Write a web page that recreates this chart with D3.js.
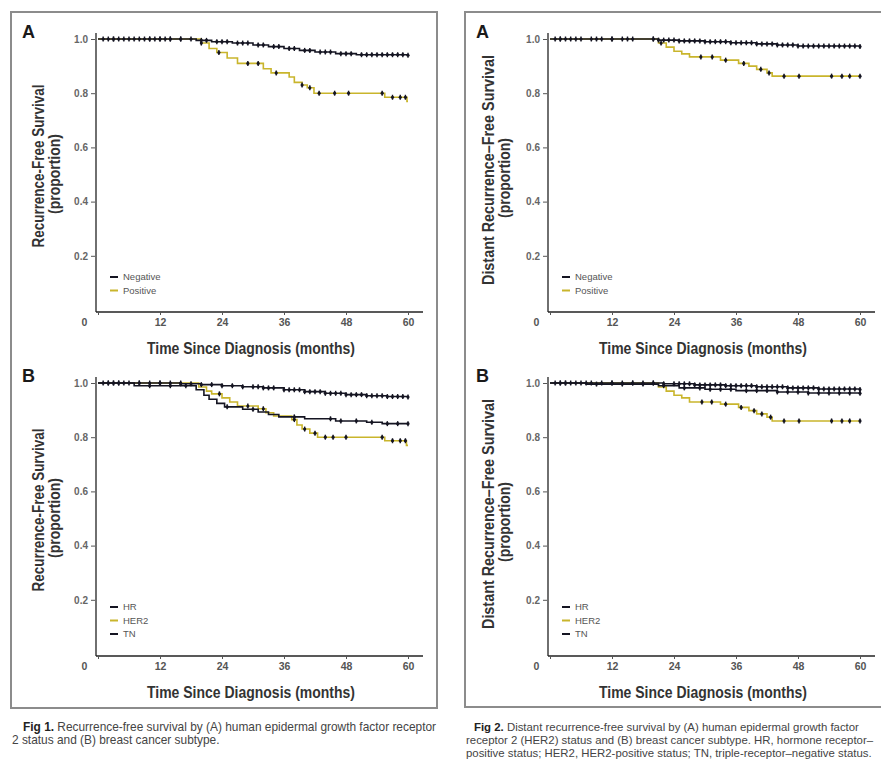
<!DOCTYPE html>
<html>
<head>
<meta charset="utf-8">
<script src="https://cdn.jsdelivr.net/npm/d3@7"></script>
<style>
body { margin: 0; background: #fff; }
svg { display: block; }
</style>
</head>
<body>
<script>
// main chart: two figures, each with panels A and B

var w = 881, h = 765;

// tick values
var monthTicks = [0, 12, 24, 36, 48, 60];
var survTicks = [0.2, 0.4, 0.6, 0.8, 1.0];

// legend labels
var her2Labels = ["Negative", "Positive"];
var subtypeLabels = ["HR", "HER2", "TN"];

// Fig 1A - recurrence-free survival by HER2 status  [month, proportion]
var f1aNeg = [[0,1],[19,0.995],[22,0.99],[26,0.985],[30,0.978],[33,0.972],[36,0.965],[39,0.958],[42,0.952],[46,0.946],[50,0.942],[60,0.94]];
var f1aNegCens = [1,2,3,4,6,8,9,10,11,12,13,14,16,18,20,21,23,24,25,27,28,29,31,32,34,35,37,38,40,41,43,44,45,47,48,49,51,52,53,54,55,56,57,58,59,60];
var f1aPos = [[0,1],[20,0.985],[21.5,0.965],[23,0.95],[25,0.93],[27,0.91],[32,0.89],[33.5,0.875],[37,0.86],[38,0.84],[39.5,0.83],[40.5,0.82],[41.8,0.8],[55.5,0.785],[59.8,0.77],[60,0.77]];
var f1aPosCens = [3,5,7,10,12,14,16,20,23.4,29,31,34.5,39.5,41,42.8,45.8,48.5,55,57,58.5,59.5];

// Fig 1B - recurrence-free survival by subtype
var f1bHR = [[0,1],[16,0.997],[20,0.994],[24,0.99],[28,0.986],[32,0.982],[36,0.975],[40,0.968],[44,0.962],[48,0.957],[52,0.953],[56,0.95],[60,0.948]];
var f1bHRCens = [1,2,3,4,5,6,8,10,12,14,16,18,20,22,24,26,28,30,31,32,33,34,36,37,38,39,40,41,42,43,44,45,46,47,48,49,50,51,52,53,54,55,56,57,58,59,60];
var f1bHER2 = [[0,1],[19.5,0.985],[21,0.97],[22,0.96],[24,0.945],[25.5,0.93],[27,0.915],[31,0.905],[32.5,0.89],[34,0.878],[37.5,0.865],[38.5,0.845],[39.5,0.83],[41,0.815],[42.5,0.8],[55.5,0.787],[59.7,0.77],[60,0.77]];
var f1bHER2Cens = [3,8,12,16,23.5,29,32,38,40,42,44,45.5,48,55,57,58.5,59.5];
var f1bTN = [[0,1],[7,0.99],[19,0.975],[20.5,0.955],[21.5,0.94],[23,0.925],[24.5,0.912],[28,0.903],[31,0.893],[33,0.884],[35,0.875],[40,0.868],[46,0.86],[52,0.855],[55,0.85],[60,0.85]];
var f1bTNCens = [2,4,10,14,17,25,30,38,45,47,50,53,56,58,60];

// Fig 2A - distant recurrence-free survival by HER2 status
var f2aNeg = [[0,1],[21,0.996],[25,0.993],[30,0.99],[35,0.986],[40,0.982],[44,0.978],[48,0.974],[60,0.972]];
var f2aNegCens = [1,2,3,5,8,10,12,14,16,20,21,22,23,24,25,26,27,28,29,30,31,32,33,34,35,36,37,38,39,40,41,42,43,44,45,46,47,48,49,50,51,52,53,54,55,56,57,58,59,60];
var f2aPos = [[0,1],[21,0.985],[22.5,0.97],[24,0.955],[25.5,0.945],[27,0.934],[33,0.922],[36.5,0.91],[38.5,0.9],[40,0.888],[42,0.875],[43,0.863],[60,0.863]];
var f2aPosCens = [2,4,6,9,12,15,20,21.5,29.2,31.4,34,37.5,40.8,42.4,45.3,48.2,54.5,56.5,58,60];

// Fig 2B - distant recurrence-free survival by subtype
var f2bHR = [[0,1],[22,0.997],[28,0.993],[34,0.99],[40,0.986],[46,0.982],[52,0.978],[60,0.976]];
var f2bHRCens = [1,2,3,4,6,8,10,12,14,16,18,20,22,24,25,26,27,28,29,30,31,32,33,34,35,36,37,38,39,40,41,42,43,44,45,46,47,48,49,50,51,52,53,54,55,56,57,58,59,60];
var f2bHER2 = [[0,1],[21,0.985],[22.5,0.97],[24,0.955],[25.5,0.945],[27,0.93],[33,0.922],[36.5,0.91],[38.5,0.898],[40,0.886],[42,0.874],[43,0.86],[60,0.86]];
var f2bHER2Cens = [3,7,12,16,20,29.4,31.3,34,37,39.5,41,42.7,45.3,48.2,54.5,56.5,58,60];
var f2bTN = [[0,1],[7,0.996],[21,0.99],[25,0.982],[30,0.977],[36,0.972],[44,0.967],[50,0.963],[60,0.962]];
var f2bTNCens = [2,5,9,14,18,22,26,29,31,33,35,38,40,42,44,46,48,50,52,54,56,58,60];

// captions
var cap1 = ["Recurrence-free survival by (A) human epidermal growth factor receptor",
            "2 status and (B) breast cancer subtype."];
var cap2 = ["Distant recurrence-free survival by (A) human epidermal growth factor",
            "receptor 2 (HER2) status and (B) breast cancer subtype. HR, hormone receptor\u2013",
            "positive status; HER2, HER2-positive status; TN, triple-receptor\u2013negative status."];

var black = "#151522", yellow = "#c9b52c";
var narrow = "'Liberation Sans Narrow', 'Arial Narrow', 'Liberation Sans', sans-serif";

var svg = d3.select("body")
    .append("svg")
    .attr("width", w)
    .attr("height", h);

// figure frames
svg.append("rect").attr("x", 11).attr("y", 12).attr("width", 426).attr("height", 696)
    .attr("fill", "none").attr("stroke", "#8c8c8c").attr("stroke-width", 2);
svg.append("rect").attr("x", 465).attr("y", 12).attr("width", 440).attr("height", 695)
    .attr("fill", "none").attr("stroke", "#8c8c8c").attr("stroke-width", 2);

function survAt(steps, t) {
    var i = d3.bisector(function(d){ return d[0]; }).right(steps, t) - 1;
    return steps[Math.max(0, i)][1];
}

function drawPanel(p) {
    var g = svg.append("g");
    var x = d3.scaleLinear().domain([0, 60]).range([p.left + 2, p.left + 312]);
    var y = d3.scaleLinear().domain([0, 1]).range([p.top + 271, p.top]);
    var axisY = p.top + 273;

    // panel letter
    g.append("text").attr("x", p.letterX).attr("y", p.top - 1)
        .attr("font-family", "'Liberation Sans', Arial, sans-serif")
        .attr("font-weight", "bold").attr("font-size", 18).attr("fill", "#1a1a1a")
        .text(p.letter);

    // axis lines
    g.append("line").attr("x1", p.left).attr("x2", p.left)
        .attr("y1", p.top - 6).attr("y2", axisY)
        .attr("stroke", "#222").attr("stroke-width", 1.3);
    g.append("line").attr("x1", p.left).attr("x2", p.left + 327)
        .attr("y1", axisY).attr("y2", axisY)
        .attr("stroke", "#222").attr("stroke-width", 1.3);

    var yAxis = g.append("g").attr("transform", "translate(" + (p.left - 1) + ",0)")
        .call(d3.axisLeft(y).tickValues(survTicks).tickFormat(d3.format(".1f")).tickSize(4).tickPadding(3));
    yAxis.select(".domain").remove();
    yAxis.selectAll("line").attr("stroke", "#555");
    yAxis.selectAll("text").attr("font-family", narrow).attr("font-size", 10)
        .attr("font-weight", "bold").attr("fill", "#666");

    var xAxis = g.append("g").attr("transform", "translate(0," + axisY + ")")
        .call(d3.axisBottom(x).tickValues(monthTicks).tickSize(3).tickPadding(4));
    xAxis.select(".domain").remove();
    xAxis.selectAll("line").attr("stroke", "#555");
    xAxis.selectAll("text").attr("font-family", narrow).attr("font-size", 10.5)
        .attr("font-weight", "bold").attr("fill", "#555")
        .attr("dx", function(d){ return d === 0 ? -14 : 0; });

    // axis titles
    g.append("text")
        .attr("x", (x(0) + x(60)) / 2 - 2).attr("y", axisY + 42)
        .attr("text-anchor", "middle")
        .attr("font-family", narrow).attr("font-size", 17).attr("font-weight", "bold")
        .attr("fill", "#333")
        .attr("textLength", 208).attr("lengthAdjust", "spacingAndGlyphs")
        .text("Time Since Diagnosis (months)");

    g.append("text")
        .attr("transform", "translate(" + p.titleX1 + "," + (p.top + p.mid1) + ") rotate(-90)")
        .attr("text-anchor", "middle")
        .attr("font-family", narrow).attr("font-size", 16).attr("font-weight", "bold")
        .attr("fill", "#333")
        .attr("textLength", p.titleLen).attr("lengthAdjust", "spacingAndGlyphs")
        .text(p.ytitle);
    g.append("text")
        .attr("transform", "translate(" + (p.titleX1 + 16) + "," + (p.top + p.mid2) + ") rotate(-90)")
        .attr("text-anchor", "middle")
        .attr("font-family", narrow).attr("font-size", 16).attr("font-weight", "bold")
        .attr("fill", "#333")
        .attr("textLength", 80).attr("lengthAdjust", "spacingAndGlyphs")
        .text("(proportion)");

    // survival curves
    var line = d3.line()
        .x(function(d){ return x(d[0]); })
        .y(function(d){ return y(d[1]); })
        .curve(d3.curveStepAfter);

    p.series.forEach(function(s) {
        g.append("path").datum(s.steps)
            .attr("fill", "none").attr("stroke", s.color)
            .attr("stroke-width", 1.6).attr("d", line);
        var cg = g.append("g");
        cg.selectAll("line").data(s.cens).enter().append("line")
            .attr("x1", function(d){ return x(d); }).attr("x2", function(d){ return x(d); })
            .attr("y1", function(d){ return y(survAt(s.steps, d)) - 2.5; })
            .attr("y2", function(d){ return y(survAt(s.steps, d)) + 2.5; })
            .attr("stroke", black).attr("stroke-width", 1.4);
        cg.selectAll("circle").data(s.cens).enter().append("circle")
            .attr("cx", function(d){ return x(d); })
            .attr("cy", function(d){ return y(survAt(s.steps, d)); })
            .attr("r", 1.6).attr("fill", black);
    });

    // legend
    var lg = g.append("g").attr("transform", "translate(" + (p.left + 14) + "," + p.legendY + ")");
    p.legend.forEach(function(l, i) {
        lg.append("line").attr("x1", 0).attr("x2", 8)
            .attr("y1", i * 13.5).attr("y2", i * 13.5)
            .attr("stroke", l.color).attr("stroke-width", 2);
        lg.append("text").attr("x", 13).attr("y", i * 13.5 + 3)
            .attr("font-family", narrow).attr("font-size", 9.5)
            .attr("fill", "#555")
            .text(l.name);
    });
}

var her2Legend = [{name: her2Labels[0], color: black}, {name: her2Labels[1], color: yellow}];
var subLegend = [{name: subtypeLabels[0], color: black}, {name: subtypeLabels[1], color: yellow}, {name: subtypeLabels[2], color: black}];

drawPanel({left: 96, top: 39, letter: "A", letterX: 22, titleX1: 44, titleLen: 163, mid1: 127, mid2: 135,
    ytitle: "Recurrence-Free Survival", legendY: 238 + 39, legend: her2Legend,
    series: [{steps: f1aPos, cens: f1aPosCens, color: yellow},
             {steps: f1aNeg, cens: f1aNegCens, color: black}]});
drawPanel({left: 96, top: 383, letter: "B", letterX: 22, titleX1: 44, titleLen: 163, mid1: 127, mid2: 135,
    ytitle: "Recurrence-Free Survival", legendY: 224 + 383, legend: subLegend,
    series: [{steps: f1bHER2, cens: f1bHER2Cens, color: yellow},
             {steps: f1bTN, cens: f1bTNCens, color: black},
             {steps: f1bHR, cens: f1bHRCens, color: black}]});
drawPanel({left: 548, top: 39, letter: "A", letterX: 476, titleX1: 494, titleLen: 230, mid1: 131, mid2: 139,
    ytitle: "Distant Recurrence\u2013Free Survival", legendY: 238 + 39, legend: her2Legend,
    series: [{steps: f2aPos, cens: f2aPosCens, color: yellow},
             {steps: f2aNeg, cens: f2aNegCens, color: black}]});
drawPanel({left: 548, top: 383, letter: "B", letterX: 476, titleX1: 494, titleLen: 230, mid1: 131, mid2: 139,
    ytitle: "Distant Recurrence\u2013Free Survival", legendY: 224 + 383, legend: subLegend,
    series: [{steps: f2bHER2, cens: f2bHER2Cens, color: yellow},
             {steps: f2bTN, cens: f2bTNCens, color: black},
             {steps: f2bHR, cens: f2bHRCens, color: black}]});

// captions
function caption(label, lines, x0, xFirst, size) {
    lines.forEach(function(t, i) {
        var txt = svg.append("text")
            .attr("x", i === 0 ? xFirst : x0).attr("y", 731 + i * 13)
            .attr("font-family", narrow).attr("font-size", size).attr("fill", "#444");
        if (i === 0) {
            txt.append("tspan").attr("font-weight", "bold").attr("fill", "#222").text(label + " ");
        }
        txt.append("tspan").text(t);
    });
}
caption("Fig 1.", cap1, 12, 23, 11.9);
caption("Fig 2.", cap2, 466, 474, 11.4);
</script>
</body>
</html>
